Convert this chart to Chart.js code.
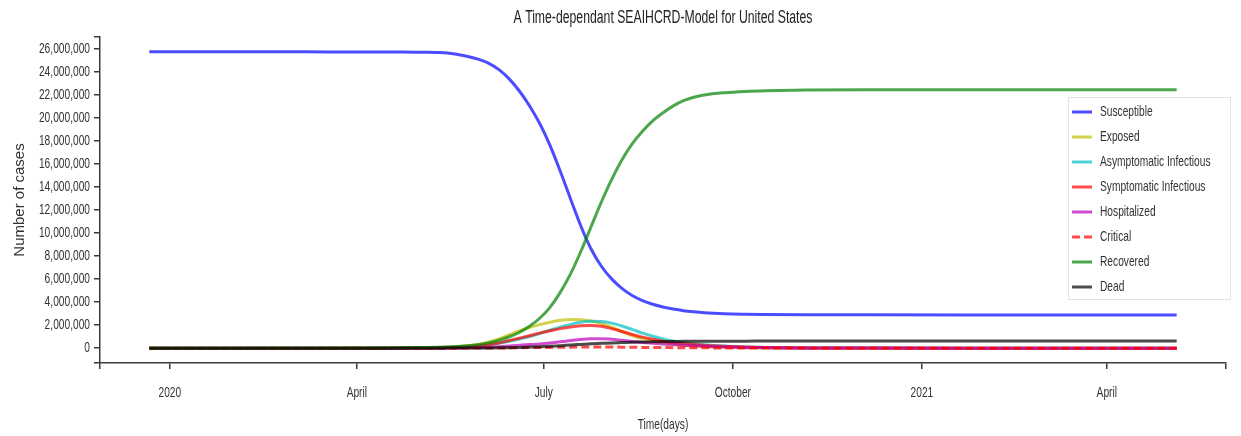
<!DOCTYPE html>
<html>
<head>
<meta charset="utf-8">
<title>A Time-dependant SEAIHCRD-Model for United States</title>
<script src="https://cdn.jsdelivr.net/npm/chart.js@4.4.1/dist/chart.umd.min.js"></script>
<style>
  html, body { margin: 0; padding: 0; background: #fff; }
  #wrap { width: 1241px; height: 436px; }
</style>
</head>
<body>
<div id="wrap"><canvas id="myChart"></canvas></div>
<script>
// days counted from 2019-12-22 (day 0), values in millions of people
const days = [0, 25, 50, 75, 100, 110, 120,
  130, 135, 140, 145, 150, 155, 160, 165, 170, 175,
  180, 185, 190, 195, 200, 205, 210, 215, 220, 225,
  230, 235, 240, 245, 250, 255, 260, 265, 270,
  280, 290, 300, 320, 350, 400, 450, 500];

const susceptible = [25.75, 25.75, 25.75, 25.75, 25.74, 25.74, 25.73,
  25.72, 25.71, 25.69, 25.65, 25.52, 25.35, 25.12, 24.77, 24.22, 23.42,
  22.37, 21.07, 19.52, 17.62, 15.37, 12.97, 10.62, 8.62, 7.12, 6.02,
  5.2, 4.58, 4.14, 3.82, 3.58, 3.4, 3.26, 3.16, 3.08,
  2.99, 2.95, 2.93, 2.91, 2.9, 2.89, 2.89, 2.89];
const exposed = [0, 0, 0, 0.002, 0.005, 0.008, 0.015,
  0.03, 0.045, 0.065, 0.095, 0.14, 0.21, 0.32, 0.52, 0.8, 1.15,
  1.5, 1.8, 2.05, 2.26, 2.42, 2.5, 2.48, 2.36, 2.14, 1.82,
  1.45, 1.1, 0.83, 0.63, 0.47, 0.35, 0.26, 0.19, 0.14,
  0.075, 0.04, 0.02, 0.008, 0.002, 0, 0, 0];
const asymptomatic = [0, 0, 0, 0.001, 0.003, 0.006, 0.01,
  0.02, 0.028, 0.04, 0.057, 0.08, 0.12, 0.18, 0.28, 0.42, 0.6,
  0.8, 1.02, 1.28, 1.56, 1.83, 2.07, 2.25, 2.34, 2.32, 2.18,
  1.93, 1.63, 1.31, 1.04, 0.81, 0.62, 0.48, 0.38, 0.3,
  0.18, 0.11, 0.06, 0.02, 0.005, 0, 0, 0];
const symptomatic = [0, 0, 0, 0.001, 0.002, 0.004, 0.008,
  0.015, 0.021, 0.03, 0.045, 0.07, 0.11, 0.18, 0.3, 0.45, 0.66,
  0.87, 1.08, 1.31, 1.51, 1.7, 1.85, 1.95, 1.98, 1.9, 1.7,
  1.45, 1.19, 0.96, 0.77, 0.61, 0.49, 0.4, 0.32, 0.26,
  0.16, 0.1, 0.06, 0.02, 0.005, 0, 0, 0];
const hospitalized = [0, 0, 0, 0, 0.001, 0.002, 0.003,
  0.005, 0.007, 0.01, 0.014, 0.02, 0.03, 0.05, 0.08, 0.13, 0.19,
  0.25, 0.31, 0.37, 0.45, 0.55, 0.66, 0.76, 0.82, 0.83, 0.77,
  0.68, 0.59, 0.5, 0.43, 0.37, 0.31, 0.26, 0.21, 0.17,
  0.11, 0.07, 0.05, 0.02, 0.01, 0, 0, 0];
const critical = [0, 0, 0, 0, 0, 0, 0.001,
  0.002, 0.002, 0.003, 0.004, 0.005, 0.007, 0.01, 0.015, 0.02, 0.03,
  0.04, 0.05, 0.06, 0.07, 0.08, 0.09, 0.1, 0.1, 0.1, 0.095,
  0.09, 0.08, 0.07, 0.06, 0.055, 0.045, 0.04, 0.035, 0.03,
  0.02, 0.015, 0.01, 0.005, 0.002, 0, 0, 0];
const recovered = [0, 0, 0.005, 0.01, 0.015, 0.02, 0.03,
  0.05, 0.065, 0.085, 0.11, 0.15, 0.21, 0.31, 0.46, 0.68, 0.97,
  1.36, 1.9, 2.6, 3.55, 4.85, 6.45, 8.4, 10.55, 12.7, 14.65,
  16.35, 17.75, 18.85, 19.75, 20.45, 21.05, 21.5, 21.8, 22.0,
  22.2, 22.31, 22.37, 22.43, 22.46, 22.46, 22.46, 22.46];
const dead = [0, 0, 0, 0, 0.001, 0.0015, 0.002,
  0.003, 0.0035, 0.004, 0.005, 0.006, 0.008, 0.012, 0.02, 0.03, 0.045,
  0.07, 0.1, 0.13, 0.17, 0.22, 0.28, 0.33, 0.38, 0.42, 0.46,
  0.49, 0.52, 0.54, 0.56, 0.575, 0.585, 0.595, 0.6, 0.605,
  0.61, 0.613, 0.615, 0.62, 0.62, 0.62, 0.62, 0.62];

// month ticks (same day numbering)
const xTickDays = [10, 101, 192, 284, 376, 466];
const xTickLabels = ['2020', 'April', 'July', 'October', '2021', 'April'];
const yTicks = [0, 2, 4, 6, 8, 10, 12, 14, 16, 18, 20, 22, 24, 26];

const X_MIN = -24;
const X_MAX = 524;
const Y_MIN = -1287500;
const Y_MAX = 27037500;

const chartFont = "'Liberation Sans', Arial, sans-serif";
const axisColor = '#3a3a3a';
const TEXT_SQUEEZE = 0.68; // the original figure uses a condensed face

const toPoints = (vals) => days.map((d, i) => ({ x: d, y: vals[i] * 1e6 }));

const series = [
  { label: 'Susceptible', values: susceptible, color: 'rgba(0, 0, 255, 0.7)' },
  { label: 'Exposed', values: exposed, color: 'rgba(191, 191, 0, 0.7)' },
  { label: 'Asymptomatic Infectious', values: asymptomatic, color: 'rgba(0, 191, 191, 0.7)' },
  { label: 'Symptomatic Infectious', values: symptomatic, color: 'rgba(255, 0, 0, 0.7)' },
  { label: 'Hospitalized', values: hospitalized, color: 'rgba(191, 0, 191, 0.7)' },
  { label: 'Critical', values: critical, color: 'rgba(255, 0, 0, 0.7)', dash: [8, 4] },
  { label: 'Recovered', values: recovered, color: 'rgba(0, 128, 0, 0.7)' },
  { label: 'Dead', values: dead, color: 'rgba(0, 0, 0, 0.7)' },
];

const datasets = series.map((s, i) => ({
  label: s.label,
  data: toPoints(s.values),
  borderColor: s.color,
  borderWidth: 3,
  borderDash: s.dash || [],
  pointRadius: 0,
  cubicInterpolationMode: 'monotone',
  fill: false,
  order: series.length - i, // later series drawn on top
}));

// squeeze horizontal text a bit, leave rotated text alone
const squeezeText = {
  id: 'squeezeText',
  beforeInit(chart) {
    const c = chart.ctx;
    const fill = c.fillText.bind(c);
    c.fillText = (text, x, y, maxWidth) => {
      const m = c.getTransform();
      if (Math.abs(m.b) > 1e-6) {
        return maxWidth === undefined ? fill(text, x, y) : fill(text, x, y, maxWidth);
      }
      c.save();
      c.translate(x, y);
      c.scale(TEXT_SQUEEZE, 1);
      fill(text, 0, 0);
      c.restore();
    };
  }
};

// legend box inside the plot, top right
const boxLegend = {
  id: 'boxLegend',
  afterDraw(chart) {
    const ctx = chart.ctx;
    const left = 1068, top = 97, w = 162, h = 202;
    ctx.save();
    ctx.fillStyle = 'rgba(255, 255, 255, 0.8)';
    ctx.fillRect(left, top, w, h);
    ctx.strokeStyle = '#e4e4e4';
    ctx.lineWidth = 1;
    ctx.strokeRect(left + 0.5, top + 0.5, w, h);
    chart.data.datasets.forEach((ds, i) => {
      const y = top + 15 + i * 25;
      ctx.beginPath();
      ctx.setLineDash(ds.borderDash);
      ctx.strokeStyle = ds.borderColor;
      ctx.lineWidth = 3;
      ctx.moveTo(left + 4, y);
      ctx.lineTo(left + 24, y);
      ctx.stroke();
      ctx.setLineDash([]);
      ctx.fillStyle = '#333';
      ctx.font = '15px ' + chartFont;
      ctx.textBaseline = 'middle';
      ctx.textAlign = 'left';
      ctx.fillText(ds.label, left + 32, y);
    });
    ctx.restore();
  }
};

const ctx = document.getElementById('myChart');

new Chart(ctx, {
  type: 'line',
  data: { datasets: datasets },
  plugins: [squeezeText, boxLegend],
  options: {
    responsive: true,
    maintainAspectRatio: false,
    animation: false,
    events: [],
    layout: { padding: { left: 0, right: 9, top: 0, bottom: 0 } },
    plugins: {
      legend: { display: false },
      tooltip: { enabled: false },
      title: {
        display: true,
        fullSize: false, // center over the plot area, not the canvas
        text: 'A Time-dependant SEAIHCRD-Model for United States',
        color: '#222',
        font: { family: chartFont, size: 18, weight: 'normal' },
        padding: { top: 7.5, bottom: 7.9 },
      },
    },
    scales: {
      x: {
        type: 'linear',
        bounds: 'data',
        min: X_MIN,
        max: X_MAX,
        afterBuildTicks: (scale) => {
          scale.ticks = [X_MIN, ...xTickDays, X_MAX].map((v) => ({ value: v }));
        },
        afterFit: (scale) => { scale.height = 73; },
        ticks: {
          autoSkip: false,
          maxRotation: 0,
          padding: 15,
          color: '#333',
          font: { family: chartFont, size: 15 },
          callback: (v) => {
            const i = xTickDays.indexOf(v);
            return i >= 0 ? xTickLabels[i] : '';
          },
        },
        grid: { drawOnChartArea: false, tickLength: 6, color: axisColor, lineWidth: 1.5 },
        border: { color: axisColor, width: 1.5 },
        title: {
          display: true,
          text: 'Time(days)',
          color: '#333',
          font: { family: chartFont, size: 15 },
          padding: { top: 0, bottom: 2 },
        },
      },
      y: {
        type: 'linear',
        bounds: 'data',
        min: Y_MIN,
        max: Y_MAX,
        afterBuildTicks: (scale) => {
          scale.ticks = [Y_MIN, ...yTicks.map((v) => v * 1e6), Y_MAX].map((v) => ({ value: v }));
        },
        afterFit: (scale) => { scale.width = 100; },
        ticks: {
          autoSkip: false,
          padding: 4,
          color: '#333',
          font: { family: chartFont, size: 15 },
          callback: (v) => (v === Y_MIN || v === Y_MAX ? '' : v.toLocaleString('en-US')),
        },
        grid: { drawOnChartArea: false, tickLength: 6, color: axisColor, lineWidth: 1.5 },
        border: { color: axisColor, width: 1.5 },
        title: {
          display: true,
          text: 'Number of cases',
          color: '#333',
          font: { family: chartFont, size: 15 },
          padding: { top: 11, bottom: 0 },
        },
      },
    },
  },
});
</script>
</body>
</html>
